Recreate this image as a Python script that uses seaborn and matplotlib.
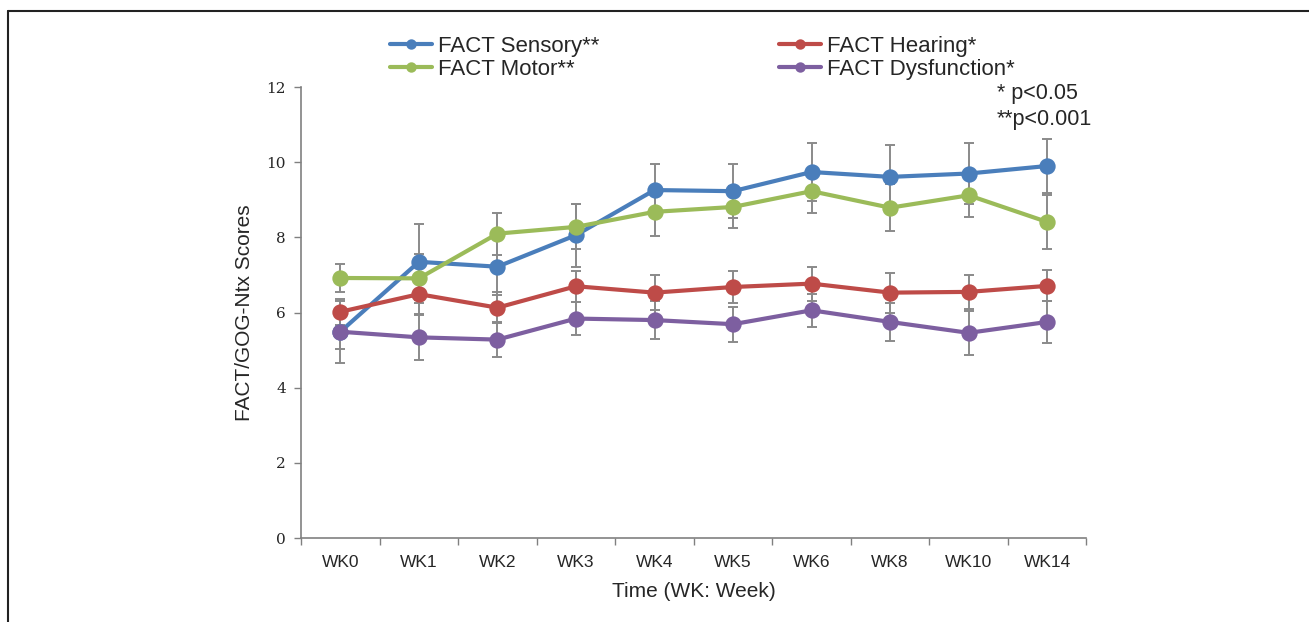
import numpy as np
import pandas as pd
import matplotlib
matplotlib.use('Agg')
import matplotlib.pyplot as plt
from matplotlib.lines import Line2D
import seaborn as sns

weeks = ['WK0', 'WK1', 'WK2', 'WK3', 'WK4', 'WK5', 'WK6', 'WK8', 'WK10', 'WK14']

sensory         = [5.49, 7.35, 7.22, 8.06, 9.26, 9.23, 9.74, 9.61, 9.70, 9.90]
sensory_err     = [0.82, 1.01, 0.76, 0.84, 0.69, 0.72, 0.76, 0.84, 0.81, 0.73]
motor           = [6.92, 6.91, 8.10, 8.28, 8.68, 8.81, 9.23, 8.79, 9.12, 8.41]
motor_err       = [0.38, 0.66, 0.56, 0.60, 0.65, 0.56, 0.57, 0.62, 0.57, 0.71]
hearing         = [6.02, 6.49, 6.13, 6.70, 6.53, 6.68, 6.77, 6.53, 6.55, 6.71]
hearing_err     = [0.35, 0.53, 0.42, 0.41, 0.46, 0.43, 0.45, 0.53, 0.46, 0.41]
dysfunction     = [5.49, 5.34, 5.28, 5.84, 5.80, 5.69, 6.06, 5.75, 5.46, 5.75]
dysfunction_err = [0.46, 0.60, 0.47, 0.44, 0.51, 0.47, 0.44, 0.50, 0.59, 0.56]

series_names = ['FACT Sensory**', 'FACT Motor**', 'FACT Hearing*', 'FACT Dysfunction*']
series_vals  = [sensory, motor, hearing, dysfunction]
series_errs  = [sensory_err, motor_err, hearing_err, dysfunction_err]
colors       = ['#4A7EBB', '#9BBB59', '#BE4B48', '#7D5FA0']

df = pd.DataFrame({
    'week':   weeks * len(series_names),
    'score':  np.concatenate(series_vals),
    'series': np.repeat(series_names, len(weeks)),
})

sns.set_style('ticks')
plt.rcParams['font.family'] = ['Liberation Sans', 'DejaVu Sans']

fig = plt.figure(figsize=(13.09, 6.22), dpi=100)
ax = fig.add_axes([0.230, 0.135, 0.600, 0.725])

# error bars behind the lines
for vals, errs in zip(series_vals, series_errs):
    ax.errorbar(np.arange(len(weeks)), vals, yerr=errs, fmt='none',
                ecolor='#8a8a8a', elinewidth=1.4, capsize=3.8, capthick=1.4, zorder=1)

sns.pointplot(data=df, x='week', y='score', hue='series', order=weeks,
              hue_order=series_names, palette=colors, markers='o',
              errorbar=None, markersize=9.5, linewidth=3, ax=ax)
for ln in ax.lines:
    if ln.get_marker() == 'o':
        ln.set_zorder(3)

ax.set_xlim(-0.5, len(weeks) - 0.5)
ax.set_ylim(0, 12)
ax.set_yticks(range(0, 13, 2))
ax.set_yticklabels([str(v) for v in range(0, 13, 2)], family='DejaVu Serif', fontsize=11)
ax.set_xticks(range(len(weeks)))
ax.set_xticklabels(weeks, fontsize=12.5)
ax.set_xticks(np.arange(-0.5, len(weeks)), minor=True)
ax.tick_params(axis='x', which='major', length=0, pad=12)
ax.tick_params(axis='x', which='minor', length=5, color='#808080', width=1)
ax.tick_params(axis='y', length=5, color='#808080', width=1, pad=6)

sns.despine(ax=ax)
for side in ['left', 'bottom']:
    ax.spines[side].set_color('#808080')
    ax.spines[side].set_linewidth(1.2)

ax.set_xlabel('Time (WK: Week)', fontsize=15, labelpad=9)
ax.set_ylabel('FACT/GOG-Ntx Scores', fontsize=15, labelpad=9)

handles, labels = ax.get_legend_handles_labels()
ax.legend(handles, labels, ncol=2, frameon=False, fontsize=16,
          loc='upper left', bbox_to_anchor=(390 / 1309, 1 - 36 / 622),
          bbox_transform=fig.transFigure, borderpad=0, borderaxespad=0,
          handlelength=1.9, handletextpad=0.25, labelspacing=0.1,
          columnspacing=8.1, markerscale=0.55)

fig.text(997 / 1309, 1 - 93 / 622, '* p<0.05', fontsize=15.5, va='center', ha='left')
fig.text(997 / 1309, 1 - 119 / 622, '**p<0.001', fontsize=15.5, va='center', ha='left')

# outer frame (top and left edges only)
fig.add_artist(Line2D([8 / 1309, 8 / 1309], [0, 1 - 11 / 622], transform=fig.transFigure,
                      color='#222222', lw=1.5))
fig.add_artist(Line2D([8 / 1309, 1], [1 - 11 / 622, 1 - 11 / 622], transform=fig.transFigure,
                      color='#222222', lw=1.5))

fig.savefig('out.png', dpi=100)
